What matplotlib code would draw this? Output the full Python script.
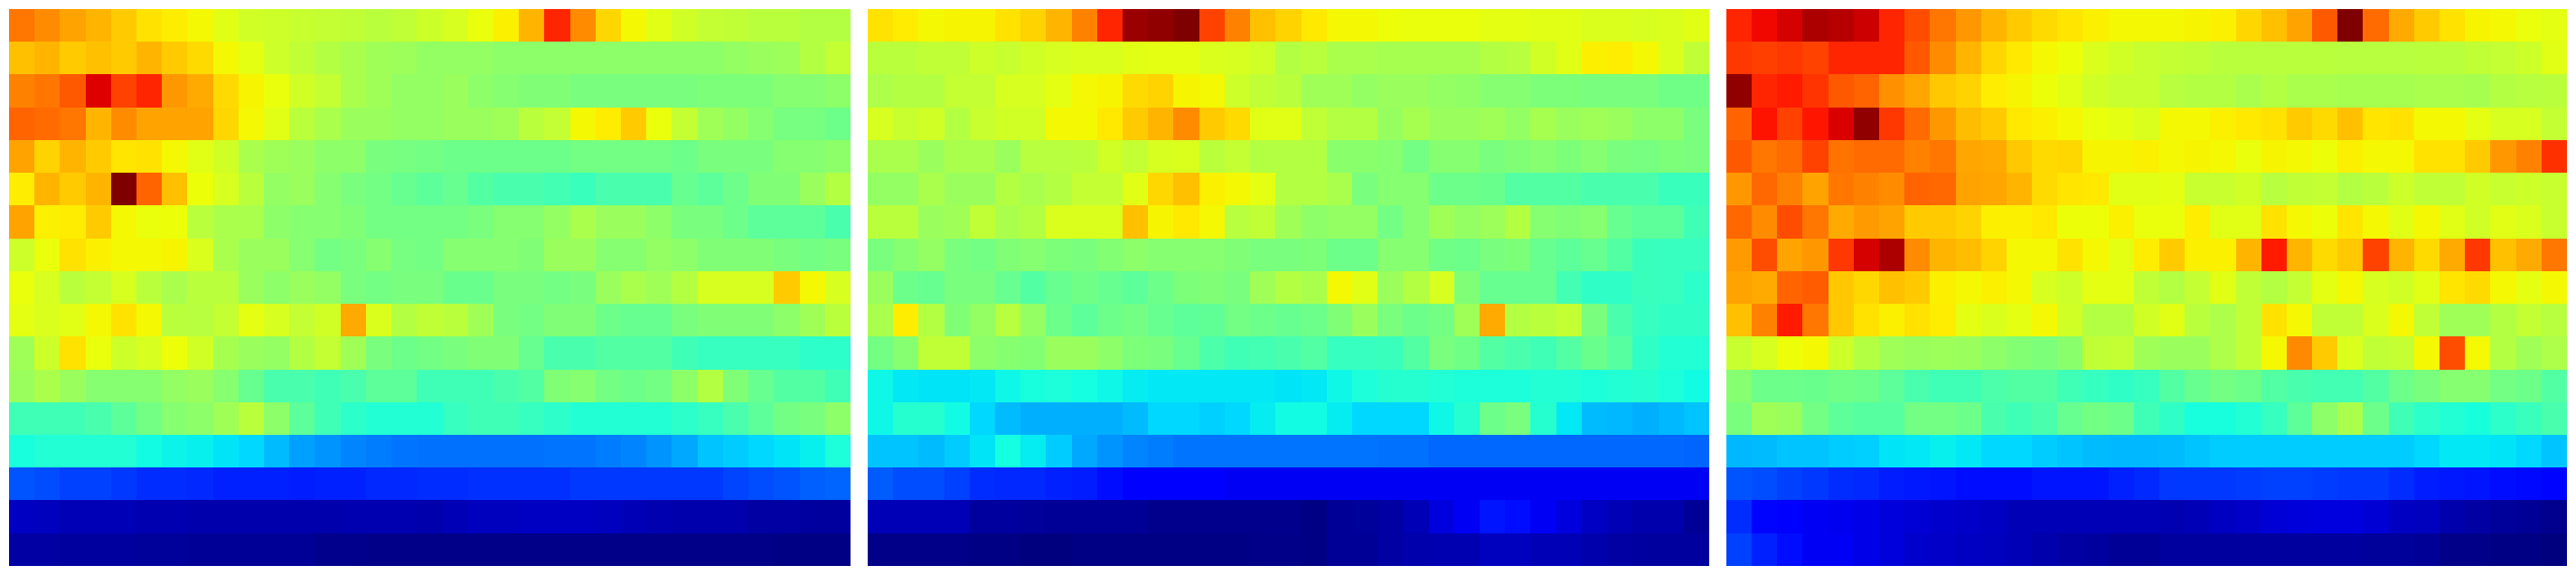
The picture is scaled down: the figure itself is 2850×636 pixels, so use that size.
import matplotlib
matplotlib.use('Agg')
import matplotlib.pyplot as plt
import matplotlib.colors as mcolors
import numpy as np

# Data, one list per heatmap
left = [
    [.77,.75,.73,.71,.69,.67,.655,.625,.60,.585,.58,.575,.57,.565,.56,.565,.58,.59,.61,.65,.71,.85,.75,.68,.63,.60,.585,.57,.565,.56,.56,.55,.55],
    [.70,.71,.69,.70,.69,.71,.69,.675,.63,.605,.58,.565,.55,.54,.53,.525,.51,.51,.51,.50,.50,.50,.50,.50,.50,.50,.50,.50,.51,.52,.525,.55,.57],
    [.76,.77,.80,.90,.82,.85,.74,.72,.675,.64,.61,.585,.57,.54,.53,.51,.51,.52,.50,.49,.48,.48,.47,.47,.47,.47,.47,.475,.475,.475,.49,.49,.50],
    [.79,.78,.77,.71,.75,.73,.73,.73,.68,.625,.60,.56,.54,.52,.52,.51,.51,.52,.52,.53,.56,.57,.62,.655,.69,.61,.57,.53,.51,.49,.465,.465,.45],
    [.73,.685,.71,.69,.665,.67,.62,.60,.585,.54,.53,.52,.50,.50,.47,.465,.46,.45,.45,.45,.45,.45,.46,.46,.46,.46,.45,.47,.47,.47,.49,.49,.50],
    [.655,.71,.69,.71,1.0,.79,.70,.615,.59,.56,.51,.52,.49,.47,.46,.44,.43,.44,.42,.41,.41,.405,.395,.41,.41,.41,.44,.43,.45,.48,.48,.52,.55],
    [.73,.65,.655,.69,.63,.61,.615,.56,.54,.54,.50,.49,.49,.48,.46,.46,.46,.46,.47,.49,.49,.51,.54,.52,.52,.50,.47,.47,.45,.43,.43,.43,.41],
    [.58,.61,.67,.65,.63,.63,.64,.595,.54,.52,.52,.49,.46,.47,.49,.465,.46,.49,.49,.49,.48,.52,.52,.49,.49,.51,.50,.48,.48,.48,.47,.46,.47],
    [.61,.59,.56,.57,.59,.56,.54,.56,.56,.52,.50,.52,.51,.47,.46,.47,.47,.445,.445,.47,.47,.46,.47,.52,.54,.53,.55,.59,.59,.59,.69,.625,.59],
    [.605,.595,.60,.63,.67,.63,.56,.555,.57,.605,.59,.57,.585,.72,.595,.55,.565,.56,.53,.47,.46,.48,.48,.45,.44,.44,.47,.48,.48,.48,.50,.53,.56],
    [.53,.58,.67,.61,.58,.59,.615,.585,.535,.52,.51,.55,.57,.53,.47,.45,.46,.47,.48,.48,.44,.41,.41,.42,.42,.42,.40,.39,.39,.39,.39,.38,.38],
    [.52,.54,.52,.49,.49,.49,.51,.52,.49,.44,.41,.41,.40,.41,.43,.43,.40,.40,.40,.41,.42,.48,.49,.46,.45,.46,.50,.55,.48,.44,.42,.42,.40],
    [.40,.40,.40,.41,.43,.46,.49,.50,.53,.56,.50,.43,.40,.38,.37,.37,.37,.39,.40,.40,.39,.38,.37,.37,.37,.37,.38,.39,.41,.43,.46,.47,.50],
    [.36,.37,.37,.37,.37,.35,.34,.335,.32,.31,.29,.27,.26,.25,.245,.24,.235,.235,.235,.235,.235,.24,.24,.245,.25,.26,.275,.295,.30,.31,.32,.335,.365],
    [.21,.20,.19,.19,.18,.17,.17,.165,.16,.16,.16,.155,.16,.16,.165,.165,.17,.17,.175,.175,.175,.175,.18,.18,.18,.18,.18,.18,.195,.20,.21,.22,.225],
    [.062,.055,.05,.05,.05,.045,.045,.04,.04,.04,.04,.04,.04,.045,.045,.045,.04,.05,.055,.055,.06,.06,.06,.055,.05,.045,.04,.04,.04,.035,.035,.03,.03],
    [.035,.035,.03,.03,.03,.025,.025,.02,.02,.02,.02,.02,.015,.015,.01,.01,.01,.01,.01,.01,.01,.01,.01,.01,.01,.01,.01,.01,.01,.01,.005,.005,.005],
]

middle = [
    [.67,.655,.63,.64,.64,.67,.685,.71,.76,.85,.97,.98,1.0,.82,.76,.70,.685,.66,.63,.62,.615,.61,.61,.61,.605,.605,.60,.60,.595,.595,.59,.595,.60],
    [.56,.56,.565,.565,.58,.575,.585,.59,.595,.595,.60,.605,.605,.595,.59,.585,.55,.56,.54,.54,.535,.535,.535,.535,.55,.555,.585,.60,.645,.655,.625,.595,.565],
    [.545,.55,.55,.57,.57,.59,.59,.605,.62,.64,.675,.685,.64,.625,.58,.565,.56,.53,.53,.51,.52,.52,.51,.505,.49,.49,.475,.475,.47,.47,.47,.455,.455],
    [.59,.575,.585,.55,.575,.585,.585,.62,.62,.66,.69,.71,.75,.69,.675,.60,.60,.565,.55,.55,.515,.535,.52,.52,.53,.51,.535,.52,.53,.52,.50,.50,.47],
    [.54,.54,.52,.54,.54,.52,.555,.555,.56,.585,.57,.59,.595,.56,.57,.55,.55,.55,.495,.495,.49,.46,.49,.49,.47,.48,.49,.475,.49,.47,.465,.475,.47],
    [.51,.51,.54,.52,.52,.55,.54,.55,.57,.57,.60,.68,.70,.645,.62,.605,.55,.55,.54,.47,.49,.49,.45,.45,.445,.42,.42,.42,.41,.41,.41,.395,.395],
    [.56,.56,.52,.53,.565,.54,.55,.595,.595,.595,.70,.635,.66,.62,.555,.565,.53,.50,.51,.51,.46,.49,.53,.51,.525,.55,.49,.48,.49,.44,.43,.43,.40],
    [.47,.49,.51,.47,.46,.48,.49,.475,.47,.485,.50,.49,.49,.49,.48,.47,.47,.475,.45,.45,.49,.49,.455,.45,.47,.475,.44,.43,.44,.42,.395,.39,.39],
    [.52,.45,.44,.47,.47,.44,.42,.44,.455,.44,.43,.45,.475,.48,.47,.53,.55,.54,.62,.60,.52,.55,.59,.48,.44,.44,.44,.405,.385,.385,.395,.39,.38],
    [.54,.655,.55,.48,.51,.555,.51,.45,.43,.45,.46,.44,.43,.435,.46,.45,.44,.45,.48,.52,.47,.45,.46,.53,.72,.55,.56,.57,.47,.41,.39,.385,.385],
    [.46,.49,.565,.565,.50,.49,.485,.52,.52,.50,.475,.47,.44,.415,.40,.405,.41,.42,.39,.39,.395,.42,.47,.455,.42,.41,.40,.42,.445,.425,.385,.37,.37],
    [.345,.325,.32,.32,.325,.345,.36,.365,.355,.345,.33,.325,.325,.325,.325,.325,.32,.325,.345,.365,.375,.375,.37,.365,.365,.365,.37,.37,.365,.37,.375,.365,.35],
    [.345,.375,.375,.35,.31,.29,.28,.28,.28,.28,.29,.31,.31,.305,.31,.33,.35,.35,.33,.31,.31,.31,.345,.375,.45,.47,.375,.325,.29,.285,.28,.285,.295],
    [.295,.295,.29,.30,.32,.355,.33,.30,.275,.26,.25,.245,.24,.24,.24,.24,.24,.24,.24,.24,.235,.235,.23,.23,.23,.23,.23,.23,.23,.23,.23,.23,.225],
    [.215,.20,.20,.19,.17,.165,.165,.16,.155,.14,.125,.115,.11,.11,.105,.105,.105,.105,.105,.105,.105,.105,.105,.105,.105,.105,.105,.105,.105,.105,.105,.105,.105],
    [.05,.05,.05,.05,.03,.03,.025,.02,.02,.02,.02,.015,.015,.015,.015,.015,.015,.005,.02,.025,.035,.05,.085,.105,.145,.14,.105,.085,.06,.05,.04,.04,.02],
    [.01,.01,.01,.01,.005,.005,0,0,.005,.005,.005,.005,.005,.005,.005,.01,.01,.005,.02,.02,.035,.04,.045,.045,.055,.055,.05,.05,.04,.035,.03,.03,.03],
]

right = [
    [.85,.88,.91,.955,.945,.92,.85,.81,.77,.74,.71,.69,.675,.665,.645,.63,.63,.63,.64,.65,.68,.70,.73,.80,1.0,.78,.72,.69,.67,.635,.625,.61,.605],
    [.83,.825,.83,.82,.85,.85,.85,.80,.75,.71,.68,.66,.625,.615,.595,.585,.575,.57,.565,.56,.56,.56,.56,.56,.555,.555,.555,.56,.56,.565,.57,.58,.60],
    [.98,.85,.86,.835,.80,.79,.745,.725,.695,.685,.655,.635,.615,.60,.585,.575,.575,.555,.55,.55,.54,.55,.54,.54,.535,.535,.535,.54,.54,.535,.55,.555,.56],
    [.79,.87,.82,.865,.905,.98,.83,.78,.74,.705,.69,.66,.65,.62,.61,.605,.595,.625,.625,.645,.66,.67,.69,.675,.70,.665,.67,.625,.625,.605,.59,.59,.57],
    [.80,.77,.78,.82,.775,.78,.78,.76,.77,.725,.72,.695,.675,.68,.64,.64,.65,.62,.635,.625,.61,.635,.625,.615,.65,.63,.62,.67,.67,.69,.74,.76,.84],
    [.74,.785,.76,.73,.77,.76,.75,.79,.785,.73,.725,.71,.675,.665,.66,.60,.60,.605,.575,.575,.585,.555,.565,.57,.55,.56,.58,.565,.565,.585,.575,.58,.575],
    [.785,.75,.81,.77,.72,.735,.73,.69,.69,.685,.645,.65,.66,.615,.615,.645,.61,.61,.655,.60,.60,.67,.625,.615,.665,.62,.60,.625,.60,.585,.60,.595,.575],
    [.735,.81,.73,.74,.83,.91,.955,.75,.71,.705,.685,.63,.63,.67,.625,.605,.655,.69,.645,.645,.71,.86,.71,.675,.695,.82,.71,.675,.72,.83,.70,.72,.77],
    [.73,.72,.79,.795,.695,.68,.70,.69,.65,.625,.645,.62,.59,.58,.605,.605,.565,.55,.57,.60,.565,.55,.57,.605,.625,.59,.585,.60,.665,.675,.625,.605,.625],
    [.70,.76,.86,.77,.695,.67,.65,.67,.655,.605,.595,.605,.625,.585,.55,.55,.585,.60,.56,.545,.565,.67,.63,.565,.565,.595,.62,.565,.53,.53,.55,.57,.555],
    [.575,.59,.615,.63,.58,.55,.53,.52,.525,.52,.50,.485,.475,.495,.565,.57,.53,.52,.52,.545,.565,.63,.755,.69,.595,.565,.57,.62,.81,.62,.55,.53,.545],
    [.49,.45,.45,.445,.455,.45,.43,.41,.40,.40,.415,.42,.42,.40,.39,.385,.39,.42,.44,.46,.45,.42,.41,.405,.405,.42,.45,.47,.49,.49,.46,.45,.42],
    [.47,.53,.52,.46,.43,.425,.425,.46,.46,.45,.41,.40,.41,.44,.46,.45,.40,.385,.36,.36,.37,.39,.43,.50,.54,.45,.40,.38,.37,.36,.38,.395,.41],
    [.285,.29,.295,.295,.30,.305,.32,.325,.335,.325,.31,.31,.30,.295,.29,.285,.285,.29,.295,.30,.30,.30,.30,.30,.30,.30,.30,.31,.325,.325,.32,.31,.295],
    [.21,.20,.19,.18,.17,.165,.155,.15,.145,.14,.14,.14,.145,.145,.145,.16,.165,.18,.18,.18,.185,.19,.19,.185,.18,.18,.17,.155,.15,.145,.14,.135,.13],
    [.17,.13,.11,.105,.10,.09,.08,.075,.07,.065,.06,.05,.05,.05,.05,.05,.05,.045,.05,.06,.065,.075,.08,.085,.085,.075,.06,.055,.04,.035,.025,.02,.015],
    [.19,.16,.14,.105,.105,.09,.08,.07,.065,.06,.055,.05,.04,.035,.03,.02,.02,.03,.03,.03,.03,.03,.03,.03,.03,.025,.025,.02,.01,.01,.005,.005,0],
]

# Colour scale: where each reading sits on jet
scale_in = [0, .24, .28, .32, .36, .40, .44, .48, .52, .55, .58, .62, .65, .68, .71, .75, .80, .85, .89, .95, 1]
scale_out = [0, .24, .30, .35, .38, .4275, .474, .505, .536, .567, .598, .645, .655, .68, .716, .76, .815, .87, .91, .956, 1]

norm = mcolors.FuncNorm((lambda v: np.interp(v, scale_in, scale_out),
                         lambda v: np.interp(v, scale_out, scale_in)), vmin=0, vmax=1)

fig = plt.figure(figsize=(28.5, 6.36), dpi=100)

# Three panels, no axes or ticks
for x0, values in zip([10, 960, 1910], [left, middle, right]):
    ax = fig.add_axes([x0 / 2850, 10 / 636, 930 / 2850, 616 / 636])
    ax.imshow(np.array(values), cmap='jet', norm=norm, aspect='auto', interpolation='nearest')
    ax.axis('off')

plt.savefig('out.png', dpi=100)
